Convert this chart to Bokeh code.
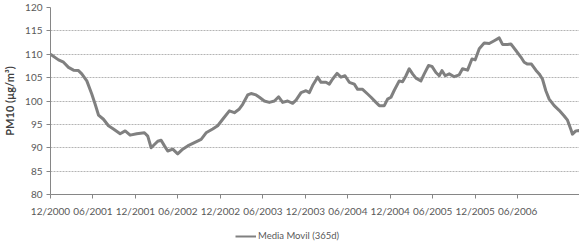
from bokeh.plotting import figure
from bokeh.models import Range1d, FixedTicker, Legend, LegendItem
from bokeh.layouts import column
from bokeh.embed import file_html
from bokeh.resources import INLINE

# months since 12/2000
months = [0.0, 1.13, 1.84, 2.54, 3.25, 3.95, 4.42, 5.13, 5.83, 6.31, 6.78, 7.48, 8.19, 8.89,
          9.84, 10.55, 11.25, 12.18, 13.27, 13.74, 14.22, 15.15, 15.63, 16.1, 16.56, 17.27,
          17.97, 18.68, 19.38, 20.33, 21.28, 21.98, 22.91, 23.62, 24.33, 25.27, 25.98, 26.68,
          27.15, 27.86, 28.33, 29.04, 29.51, 30.21, 30.92, 31.63, 32.23, 32.8, 33.5, 34.21,
          34.69, 35.4, 36.1, 36.57, 37.03, 37.74, 38.22, 38.92, 39.39, 39.86, 40.48, 41.04,
          41.61, 42.21, 42.92, 43.39, 44.09, 44.8, 45.28, 45.98, 46.45, 47.16, 47.62, 48.1,
          48.57, 49.27, 49.74, 50.22, 50.68, 51.15, 51.63, 52.33, 52.8, 53.41, 53.89, 54.45,
          54.92, 55.3, 55.77, 56.33, 57.04, 57.74, 58.21, 58.92, 59.54, 60.0, 60.57, 61.27,
          61.98, 62.69, 63.39, 63.86, 64.57, 65.04, 65.75, 66.45, 66.92, 67.39, 67.95, 68.57,
          69.04, 69.5, 69.98, 70.45, 71.16, 71.86, 72.57, 73.04, 73.52, 73.74, 74.22, 74.69,
          75.16]
pm10 = [110.0, 108.8, 108.3, 107.2, 106.6, 106.5, 105.8, 104.3, 101.5, 99.3, 97.0, 96.1, 94.7, 94.0,
        93.0, 93.6, 92.7, 93.0, 93.2, 92.5, 90.0, 91.4, 91.6, 90.4, 89.3, 89.7,
        88.7, 89.7, 90.4, 91.1, 91.8, 93.2, 94.0, 94.7, 96.1, 97.9, 97.5, 98.3,
        99.3, 101.3, 101.6, 101.3, 100.8, 100.0, 99.7, 100.0, 100.9, 99.7, 100.0, 99.5,
        100.2, 101.8, 102.2, 101.8, 103.3, 105.1, 104.0, 104.0, 103.6, 104.7, 105.9, 105.1,
        105.4, 104.0, 103.6, 102.5, 102.5, 101.5, 100.8, 99.7, 99.0, 99.0, 100.4, 100.8,
        102.3, 104.3, 104.1, 105.4, 106.9, 105.8, 104.9, 104.3, 105.8, 107.6, 107.4, 106.1,
        105.4, 106.5, 105.4, 105.8, 105.2, 105.6, 106.9, 106.6, 109.0, 108.8, 111.2, 112.4,
        112.3, 112.9, 113.5, 112.1, 112.1, 112.2, 110.8, 109.4, 108.3, 107.9, 107.9, 106.6,
        105.8, 104.7, 102.2, 100.4, 99.0, 98.0, 96.8, 95.9, 93.9, 92.9, 93.6, 93.7,
        93.2]

x_tick_pos = [0, 6, 12, 18, 24, 30, 36, 42, 48, 54, 60, 66]
x_tick_labels = ["12/2000", "06/2001", "12/2001", "06/2002", "12/2002", "06/2003",
                 "12/2003", "06/2004", "12/2004", "06/2005", "12/2005", "06/2006"]
y_ticks = [80, 85, 90, 95, 100, 105, 110, 115, 120]
series_name = "Media Movil (365d)"

FONT = "Lato"
TXT = "#595959"
AX = "#868686"
LINE = "#808080"

p = figure(frame_width=533, frame_height=187, output_backend="svg", toolbar_location=None,
           x_range=Range1d(0, 75.3), y_range=Range1d(80, 120),
           min_border_left=46, min_border_right=0, min_border_top=7, min_border_bottom=24)
p.outline_line_color = None
p.background_fill_color = "white"
p.border_fill_color = "white"

p.line(months, pm10, line_color=LINE, line_width=3, line_join="round")

p.xgrid.visible = False
p.ygrid.grid_line_color = "#b4b4b4"
p.ygrid.grid_line_dash = "2 1"
p.ygrid.grid_line_width = 1

p.xaxis.ticker = FixedTicker(ticks=x_tick_pos)
p.xaxis.major_label_overrides = {k: v for k, v in zip(x_tick_pos, x_tick_labels)}
p.yaxis.ticker = FixedTicker(ticks=y_ticks)
p.xaxis.minor_tick_line_color = None
p.yaxis.minor_tick_line_color = None
for ax in (p.xaxis, p.yaxis):
    ax.axis_line_color = AX
    ax.major_tick_line_color = AX
    ax.major_tick_in = 0
    ax.major_tick_out = 4
    ax.major_label_text_font = FONT
    ax.major_label_text_font_size = "10px"
    ax.major_label_text_color = TXT
p.xaxis.major_label_standoff = 6
p.yaxis.major_label_standoff = 4

p.yaxis.axis_label = "PM10 (µg/m³)"
p.yaxis.axis_label_text_font = FONT
p.yaxis.axis_label_text_font_size = "11px"
p.yaxis.axis_label_text_font_style = "bold"
p.yaxis.axis_label_text_color = "#404040"
p.yaxis.axis_label_standoff = 6

# legend strip below the chart
lf = figure(frame_width=579, frame_height=26, output_backend="svg", toolbar_location=None,
            x_range=Range1d(0, 1), y_range=Range1d(0, 1),
            x_axis_location=None, y_axis_location=None,
            min_border=0, min_border_left=0, min_border_right=0,
            min_border_top=0, min_border_bottom=0)
lf.outline_line_color = None
lf.xgrid.visible = False
lf.ygrid.visible = False
leg_r = lf.line([5, 6], [5, 6], line_color=LINE, line_width=2)
legend = Legend(items=[LegendItem(label=series_name, renderers=[leg_r])],
                orientation="horizontal", location=(235, 4),
                label_text_font=FONT, label_text_font_size="9.5px", label_text_color=TXT,
                border_line_color=None, background_fill_alpha=0,
                glyph_width=21, glyph_height=10, label_standoff=2, label_height=10,
                padding=1, margin=0, spacing=0)
lf.add_layout(legend, "center")

layout = column(p, lf, spacing=0)
open("out.html", "w").write(file_html(layout, INLINE))
